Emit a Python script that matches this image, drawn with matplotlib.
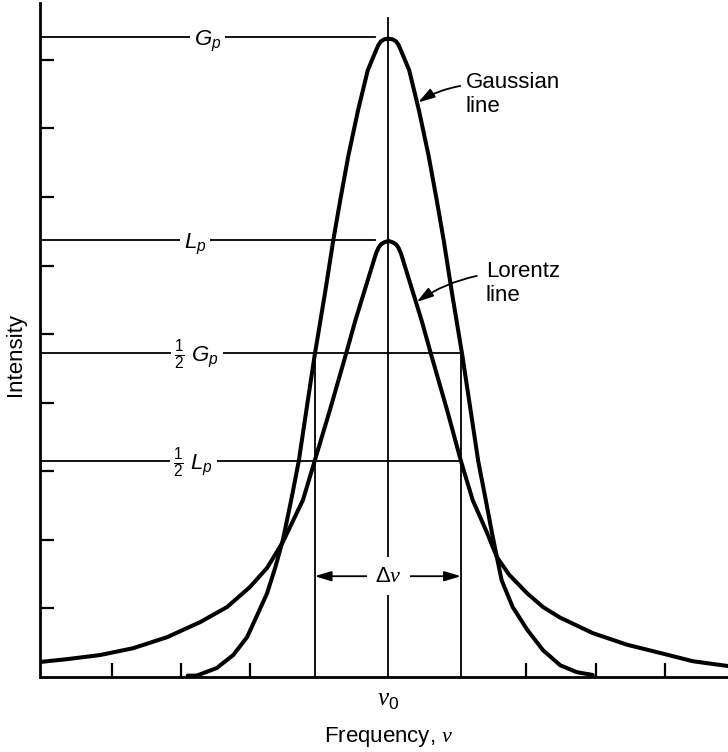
import numpy as np
import matplotlib
matplotlib.use('Agg')
import matplotlib.pyplot as plt

plt.rcParams['font.family'] = 'Liberation Sans'
plt.rcParams['mathtext.fontset'] = 'custom'
plt.rcParams['mathtext.rm'] = 'Liberation Sans'
plt.rcParams['mathtext.it'] = 'Liberation Sans:italic'
plt.rcParams['mathtext.sf'] = 'Liberation Serif:italic'  # used for the nu

#%% curves (x in tick units around nu0, y in tick units)
gauss_x = [-2.91, -2.78, -2.49, -2.25, -2.05, -1.89, -1.76, -1.64, -1.53, -1.41,
           -1.30, -1.19, -1.07, -0.92, -0.80, -0.70, -0.58, -0.44, -0.30, -0.18,
           -0.145, -0.11, -0.06, 0.0, 0.06, 0.11, 0.145, 0.18, 0.30, 0.44,
           0.58, 0.70, 0.80, 0.92, 1.07, 1.19, 1.30, 1.41, 1.50, 1.57,
           1.64, 1.80, 2.01, 2.24, 2.49, 2.73, 2.96]
gauss_y = [0.02, 0.02, 0.13, 0.32, 0.58, 0.93, 1.22, 1.60, 2.00, 2.58,
           3.15, 3.89, 4.69, 5.60, 6.37, 6.95, 7.61, 8.27, 8.85, 9.14,
           9.22, 9.27, 9.30, 9.31, 9.30, 9.27, 9.22, 9.14, 8.85, 8.27,
           7.61, 6.95, 6.37, 5.60, 4.69, 3.89, 3.15, 2.58, 2.10, 1.75,
           1.41, 1.02, 0.69, 0.39, 0.17, 0.07, 0.03]

lor_x = [-5.04, -4.66, -4.18, -3.70, -3.21, -2.73, -2.34, -2.01, -1.76, -1.53,
         -1.24, -1.07, -0.85, -0.63, -0.48, -0.33, -0.18, -0.145, -0.11, -0.06,
         0.0, 0.06, 0.11, 0.145, 0.18, 0.33, 0.48, 0.63, 0.85, 1.05,
         1.22, 1.43, 1.57, 1.75, 2.01, 2.24, 2.48, 2.96, 3.46, 3.98,
         4.41, 4.92]
lor_y = [0.22, 0.26, 0.32, 0.42, 0.58, 0.80, 1.02, 1.31, 1.59, 1.97,
         2.58, 3.15, 3.89, 4.66, 5.20, 5.69, 6.18, 6.26, 6.31, 6.34,
         6.36, 6.34, 6.31, 6.26, 6.18, 5.69, 5.20, 4.66, 3.89, 3.15,
         2.58, 2.10, 1.75, 1.49, 1.22, 1.02, 0.87, 0.64, 0.47, 0.34,
         0.23, 0.16]

G_p = 9.33
L_p = 6.37
half_G = 4.72
half_L = 3.15
dnu_left, dnu_right = -1.07, 1.05
x_ticks = [-4, -3, -2, 2, 3, 4]
y_ticks = [1, 2, 3, 4, 5, 6, 7, 8, 9]

#%%
fig = plt.figure(figsize=(7.28, 7.52), dpi=100)
ax = fig.add_axes([40/728, 75/752, 688/728, 674/752])
ax.set_xlim(-5.05, 4.92)
ax.set_ylim(0, 9.83)

for s in ['top', 'right']:
    ax.spines[s].set_visible(False)
for s in ['left', 'bottom']:
    ax.spines[s].set_linewidth(2.0)
ax.set_xticks(x_ticks)
ax.set_yticks(y_ticks)
ax.tick_params(direction='in', length=10, width=1.6,
               labelbottom=False, labelleft=False)

thin = dict(color='k', lw=1.3, zorder=2)
ax.plot([-5.05, -0.2], [G_p, G_p], **thin)
ax.plot([-5.05, -0.2], [L_p, L_p], **thin)
ax.plot([-5.05, dnu_right], [half_G, half_G], **thin)
ax.plot([-5.05, dnu_right], [half_L, half_L], **thin)
ax.plot([0, 0], [0, 9.61], **thin)
ax.plot([dnu_left, dnu_left], [0, half_G], **thin)
ax.plot([dnu_right, dnu_right], [0, half_G], **thin)

ax.plot(gauss_x, gauss_y, color='k', lw=2.9, solid_joinstyle='round',
        solid_capstyle='round', zorder=3)
ax.plot(lor_x, lor_y, color='k', lw=2.9, solid_joinstyle='round',
        solid_capstyle='round', zorder=3)

lab = dict(fontsize=16, ha='center', va='baseline', zorder=5,
           bbox=dict(facecolor='white', edgecolor='none', pad=2.5))
ax.text(-2.62, G_p - 0.12, r'$G_p$', **lab)
ax.text(-2.80, L_p - 0.12, r'$L_p$', **lab)
ax.text(-2.78, half_G - 0.12, r'$\frac{\mathrm{1}}{\mathrm{2}}\ G_p$', **lab)
ax.text(-2.83, half_L - 0.12, r'$\frac{\mathrm{1}}{\mathrm{2}}\ L_p$', **lab)

# delta nu
ax.text(0, 1.47, r'Δ$\mathsf{\nu}$', fontsize=16, ha='center', va='center',
        zorder=5, bbox=dict(facecolor='white', edgecolor='none', pad=6))
arr = dict(arrowstyle='-|>,head_length=1.0,head_width=0.3', lw=1.3,
           color='k', shrinkA=0, shrinkB=0)
ax.annotate('', xy=(dnu_left, 1.47), xytext=(-0.28, 1.47), arrowprops=arr)
ax.annotate('', xy=(dnu_right, 1.47), xytext=(0.30, 1.47), arrowprops=arr)

# curve labels
ax.text(1.12, 8.82, 'Gaussian\nline', fontsize=16, ha='left', va='top',
        linespacing=1.15)
ax.text(1.41, 6.06, 'Lorentz\nline', fontsize=16, ha='left', va='top',
        linespacing=1.15)
arr2 = dict(arr, connectionstyle='arc3,rad=0.1')
ax.annotate('', xy=(0.43, 8.38), xytext=(1.04, 8.62), arrowprops=arr2)
ax.annotate('', xy=(0.41, 5.47), xytext=(1.28, 5.85), arrowprops=arr2)

ax.text(0, -0.34, r'$\mathsf{\nu}_\mathrm{0}$', fontsize=18, ha='center',
        va='center')
fig.text(389/728, 1 - 737/752, r'Frequency, $\mathsf{\nu}$', fontsize=16,
         ha='center', va='center')
fig.text(16/728, 1 - 355/752, 'Intensity', fontsize=16, rotation=90,
         ha='center', va='center')

fig.savefig('out.png', dpi=100)
